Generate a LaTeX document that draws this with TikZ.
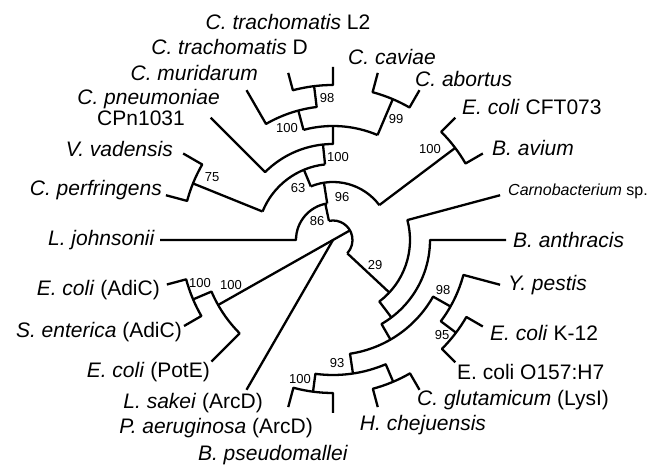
\documentclass[tikz,border=0pt]{standalone}
\usepackage{fontspec}
\setmainfont{Liberation Sans}

\begin{document}
\begin{tikzpicture}[x=1pt,y=1pt,
  branch/.style={line width=2.3pt, line join=round},
  taxon/.style={font=\fontsize{21}{24}\selectfont, inner sep=0pt},
  boot/.style={font=\fontsize{13}{15}\selectfont, inner sep=0pt}]
\useasboundingbox (0,0) rectangle (651,465);

% tree, centred on the root
\begin{scope}[shift={(333,225)}]
\coordinate (root) at (0,0);
\draw[branch] (102:19.5) arc[start angle=102, end angle=-43, radius=19.5pt];
\draw[branch] (29.5:19.5) -- (209.5:132);
\draw[branch] (root) -- (240:173);
% upper half
\draw[branch] (102:19.5) -- (102:37);
\draw[branch] (180:173) -- (180:37) arc[start angle=180, end angle=99, radius=37pt];
\draw[branch] (99:37) -- (99:58);
\draw[branch] (112.5:58) arc[start angle=112.5, end angle=37, radius=58pt];
\draw[branch] (37:58) -- (37:153);
\draw[branch] (45:173) -- (45:153) arc[start angle=45, end angle=30, radius=153pt] -- (30:173);
\draw[branch] (112.5:58) -- (112.5:76);
\draw[branch] (158:76) arc[start angle=158, end angle=96, radius=76pt];
\draw[branch] (158:76) -- (158:151);
\draw[branch] (150:173) -- (150:151) arc[start angle=150, end angle=165, radius=151pt] -- (165:173);
\draw[branch] (96:76) -- (96:96);
\draw[branch] (135:173) -- (135:96) arc[start angle=135, end angle=90, radius=96pt] -- (90:114);
\draw[branch] (105:114) arc[start angle=105, end angle=67, radius=114pt];
\draw[branch] (105:114) -- (105:134);
\draw[branch] (120:173) -- (120:134) arc[start angle=120, end angle=97, radius=134pt] -- (97:155);
\draw[branch] (105:173) -- (105:155) arc[start angle=105, end angle=90, radius=155pt] -- (90:173);
\draw[branch] (67:114) -- (67:153);
\draw[branch] (75:173) -- (75:153) arc[start angle=75, end angle=60, radius=153pt] -- (60:173);
% lower half
\draw[branch] (-43:19.5) -- (-43:77);
\draw[branch] (15:173) -- (15:77) arc[start angle=15, end angle=-53, radius=77pt] -- (-53:97);
\draw[branch] (0:173) -- (0:97) arc[start angle=0, end angle=-60, radius=97pt] -- (-60:115);
\draw[branch] (-29.5:135) -- (-29.5:115) arc[start angle=-29.5, end angle=-81.5, radius=115pt] -- (-81.5:135);
\draw[branch] (-15:173) -- (-15:135) arc[start angle=-15, end angle=-37, radius=135pt] -- (-37:154);
\draw[branch] (-30:173) -- (-30:154) arc[start angle=-30, end angle=-45, radius=154pt] -- (-45:173);
\draw[branch] (-67:154) -- (-67:135) arc[start angle=-67, end angle=-97.5, radius=135pt] -- (-97.5:153);
\draw[branch] (-105:173) -- (-105:153) arc[start angle=-105, end angle=-90, radius=153pt] -- (-90:173);
\draw[branch] (-75:173) -- (-75:154) arc[start angle=-75, end angle=-60, radius=154pt] -- (-60:173);
% AdiC / PotE
\draw[branch] (225:172) -- (225:132) arc[start angle=225, end angle=203, radius=132pt] -- (203:152);
\draw[branch] (195:172) -- (195:152) arc[start angle=195, end angle=210, radius=152pt] -- (210:172);
\end{scope}

% taxa
\node[taxon] (ctrL2) at (288,443) {\textit{C. trachomatis} L2};
\node[taxon, anchor=east] (ctrD) at (308,418) {\textit{C. trachomatis} D};
\node[taxon, anchor=east] (cmu) at (258,392) {\textit{C. muridarum}};
\node[taxon, anchor=east] (cpn) at (220,366) {\textit{C. pneumoniae}};
\node[taxon, anchor=east] (cpnstr) at (185,347) {CPn1031};
\node[taxon, anchor=east] (vva) at (173,316) {\textit{V. vadensis}};
\node[taxon, anchor=east] (cpe) at (162,275) {\textit{C. perfringens}};
\node[taxon, anchor=east] (ljo) at (155,225) {\textit{L. johnsonii}};
\node[taxon, anchor=east] (ecadi) at (160,175) {\textit{E. coli} (AdiC)};
\node[taxon, anchor=east] (sen) at (182,133) {\textit{S. enterica} (AdiC)};
\node[taxon, anchor=east] (ecpot) at (210,93) {\textit{E. coli} (PotE)};
\node[taxon, anchor=east] (lsa) at (263,62) {\textit{L. sakei} (ArcD)};
\node[taxon, anchor=east] (pae) at (313,37) {\textit{P. aeruginosa} (ArcD)};
\node[taxon] (bps) at (273,10) {\textit{B. pseudomallei}};
\node[taxon] (hch) at (423,40) {\textit{H. chejuensis}};
\node[taxon, anchor=west] (cgl) at (417,65) {\textit{C. glutamicum} (LysI)};
\node[taxon, anchor=west] (ecoh) at (457,93) {E. coli O157:H7};
\node[taxon, anchor=west] (eck) at (490,132) {\textit{E. coli} K-12};
\node[taxon, anchor=west] (ype) at (508,180) {\textit{Y. pestis}};
\node[taxon, anchor=west] (ban) at (513,225) {\textit{B. anthracis}};
\node[taxon, anchor=west, font=\fontsize{16}{18}\selectfont] (car) at (508,274) {\textit{Carnobacterium} sp.};
\node[taxon, anchor=west] (bav) at (492,317) {\textit{B. avium}};
\node[taxon, anchor=west] (eccft) at (462,358) {\textit{E. coli} CFT073};
\node[taxon, anchor=west] (cab) at (415,386) {\textit{C. abortus}};
\node[taxon, anchor=west] (cca) at (348,408) {\textit{C. caviae}};

% bootstrap values
\node[boot] (b98a) at (327,367) {98};
\node[boot] (b100a) at (287,337) {100};
\node[boot] (b99) at (396,346) {99};
\node[boot] (b100b) at (338,308) {100};
\node[boot] (b63) at (298,277) {63};
\node[boot] (b96) at (342,268) {96};
\node[boot] (b86) at (317,244) {86};
\node[boot] (b75) at (212,288) {75};
\node[boot] (b100c) at (430,316) {100};
\node[boot] (b29) at (375,200) {29};
\node[boot] (b98b) at (443,175) {98};
\node[boot] (b95) at (442,130) {95};
\node[boot] (b93) at (337,102) {93};
\node[boot] (b100d) at (300,86) {100};
\node[boot] (b100e) at (200,182) {100};
\node[boot] (b100f) at (231,180) {100};
\end{tikzpicture}
\end{document}
